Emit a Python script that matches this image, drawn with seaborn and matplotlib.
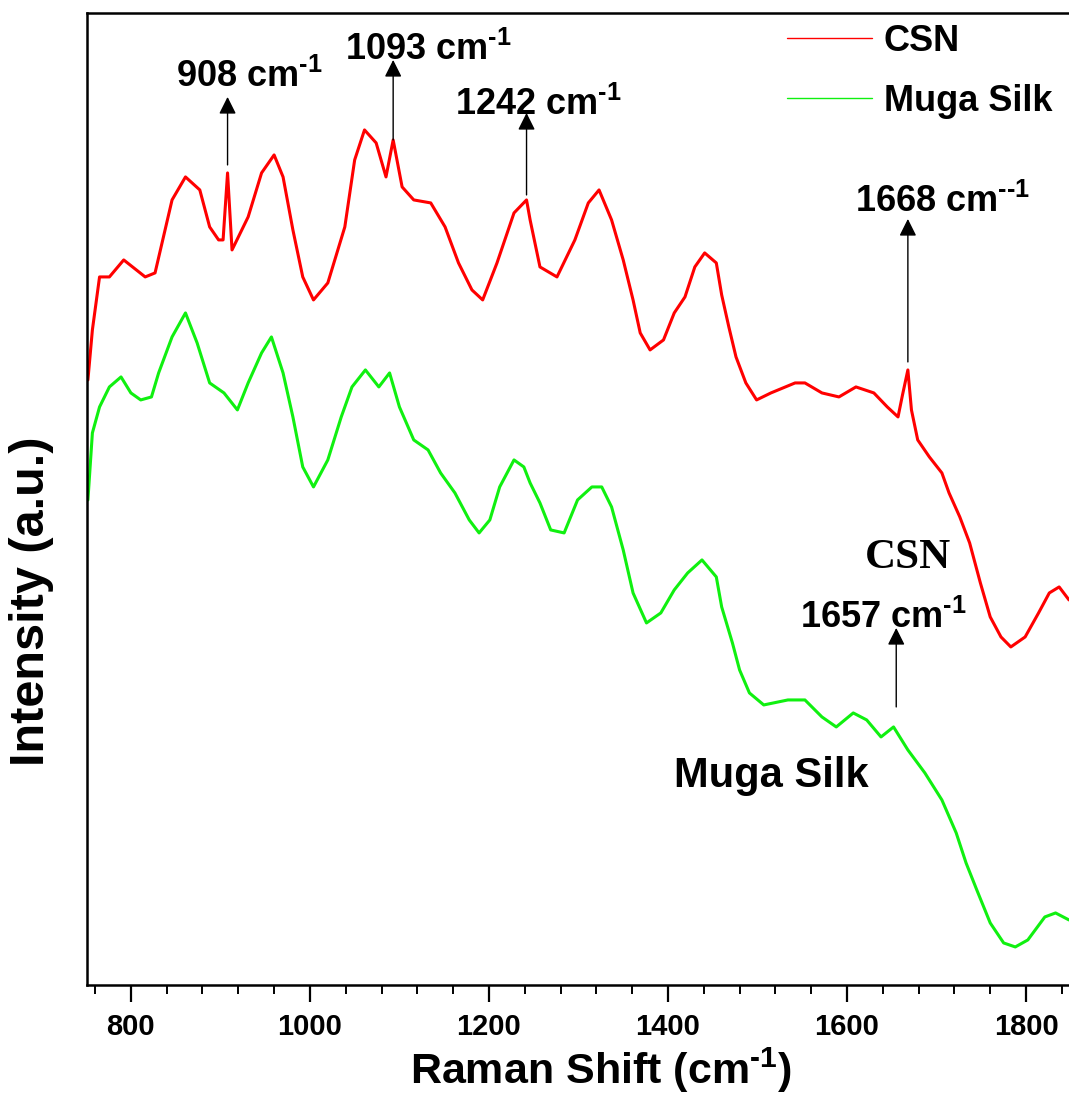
import numpy as np
import pandas as pd
import seaborn as sns
import matplotlib
matplotlib.use("Agg")
import matplotlib.pyplot as plt
from matplotlib.ticker import MultipleLocator

# values (intensity in arbitrary units)
csn_shift = [752, 757, 765, 776, 792, 816, 827, 846, 861, 877, 888, 898, 903, 908, 913,
             931, 946, 960, 970, 981, 992, 1004, 1020, 1039, 1050, 1061, 1074, 1085, 1093,
             1103, 1116, 1135, 1151, 1166, 1181, 1193, 1209, 1228, 1242, 1246, 1257, 1276,
             1296, 1311, 1323, 1337, 1350, 1361, 1369, 1380, 1395, 1407, 1419, 1430, 1441,
             1454, 1460, 1468, 1476, 1487, 1499, 1515, 1542, 1553, 1572, 1591, 1610, 1630,
             1645, 1657, 1662, 1668, 1672, 1679, 1692, 1706, 1714, 1726, 1737, 1749, 1760,
             1772, 1783, 1799, 1814, 1826, 1837, 1848]
csn_int = [605, 655, 708, 708, 725, 708, 712, 785, 808, 795, 758, 745, 745, 812, 735,
           768, 812, 830, 808, 755, 708, 685, 702, 758, 825, 855, 842, 808, 845,
           798, 785, 782, 758, 722, 695, 685, 722, 772, 785, 765, 718, 708,
           745, 782, 795, 765, 725, 685, 652, 635, 645, 672, 688, 718, 732,
           722, 690, 658, 628, 602, 585, 592, 602, 602, 592, 588, 598, 592,
           578, 568, 590, 615, 575, 545, 528, 512, 492, 468, 442, 402, 368,
           348, 338, 348, 372, 392, 398, 385]

muga_shift = [752, 757, 765, 776, 789, 800, 811, 823, 831, 846, 861, 874, 888, 904, 919,
              931, 946, 957, 970, 981, 992, 1004, 1020, 1035, 1047, 1062, 1077, 1089, 1100,
              1116, 1132, 1146, 1162, 1178, 1189, 1201, 1212, 1228, 1239, 1246, 1257, 1269,
              1284, 1299, 1315, 1326, 1337, 1350, 1361, 1376, 1392, 1407, 1422, 1438, 1454,
              1460, 1472, 1480, 1491, 1507, 1534, 1553, 1572, 1588, 1607, 1622, 1638, 1652,
              1668, 1687, 1706, 1722, 1733, 1745, 1760, 1775, 1788, 1802, 1821, 1833, 1848]
muga_int = [485, 552, 578, 598, 608, 592, 585, 588, 612, 648, 672, 642, 602, 592, 575,
            602, 632, 648, 612, 568, 518, 498, 525, 568, 598, 615, 598, 612, 578,
            545, 535, 512, 492, 465, 452, 465, 498, 525, 518, 502, 482, 455,
            452, 485, 498, 498, 478, 435, 392, 362, 372, 395, 412, 425, 408,
            378, 342, 315, 292, 280, 285, 285, 268, 258, 272, 265, 248, 258,
            235, 212, 185, 152, 122, 95, 62, 42, 38, 45, 68, 72, 65]

# peak markers: (label, arrow x, arrow base y, arrow tip y, text x, text baseline y)
peaks = [
    (r"908 cm$^{\text{-1}}$", 908, 820, 888, 850, 898),
    (r"1093 cm$^{\text{-1}}$", 1093, 845, 925, 1039, 925),
    (r"1242 cm$^{\text{-1}}$", 1242, 790, 872, 1162, 870),
    (r"1668 cm$^{\text{--1}}$", 1668, 623, 766, 1609, 773),
    (r"1657 cm$^{\text{-1}}$", 1655, 278, 357, 1547, 357),
]

sns.set_theme(style="white")
plt.rcParams["font.family"] = ["Liberation Sans", "DejaVu Sans"]
plt.rcParams["font.weight"] = "bold"
plt.rcParams["text.color"] = "black"
plt.rcParams["axes.labelcolor"] = "black"
plt.rcParams["xtick.color"] = "black"
plt.rcParams["mathtext.fontset"] = "custom"
plt.rcParams["mathtext.rm"] = "Liberation Sans:bold"
plt.rcParams["mathtext.it"] = "Liberation Sans:bold"
plt.rcParams["mathtext.bf"] = "Liberation Sans:bold"

fig = plt.figure(figsize=(10.69, 10.95), dpi=100)
ax = fig.add_axes([0.0814, 0.1005, 0.9186, 0.8877])

csn = pd.DataFrame({"shift": csn_shift, "intensity": csn_int})
muga = pd.DataFrame({"shift": muga_shift, "intensity": muga_int})
sns.lineplot(data=csn, x="shift", y="intensity", color="#ff0000", lw=2.2, label="CSN", ax=ax)
sns.lineplot(data=muga, x="shift", y="intensity", color="#10f010", lw=2.2, label="Muga Silk", ax=ax)

ax.set_xlim(751, 1848)
ax.set_ylim(0, 972)
ax.set_yticks([])
ax.xaxis.set_major_locator(MultipleLocator(200))
ax.xaxis.set_minor_locator(MultipleLocator(40))
ax.tick_params(axis="x", which="major", direction="out", length=12, width=1.6,
               labelsize=21, pad=8, bottom=True, color="black", labelcolor="black")
ax.tick_params(axis="x", which="minor", direction="out", length=6.5, width=1.4,
               bottom=True, color="black")
for lab in ax.get_xticklabels():
    lab.set_fontweight("bold")

for side in ["left", "bottom", "top"]:
    ax.spines[side].set_color("black")
    ax.spines[side].set_linewidth(1.8)
ax.spines["right"].set_visible(False)

ax.set_xlabel(r"Raman Shift (cm$^{\text{-1}}$)", fontsize=31, fontweight="bold",
              labelpad=0, va="baseline")
ax.xaxis.set_label_coords(0.523, -0.102)
ax.set_ylabel("Intensity (a.u.)", fontsize=35, fontweight="bold", va="center")
ax.yaxis.set_label_coords(-0.057, 0.395)

for text, xa, yb, yt, xt, ytxt in peaks:
    ax.annotate("", xy=(xa, yt), xytext=(xa, yb),
                arrowprops=dict(arrowstyle="-|>", color="black", lw=1.0,
                                mutation_scale=26, shrinkA=0, shrinkB=0))
    ax.text(xt, ytxt, text, fontsize=26, fontweight="bold", ha="left", va="baseline")

ax.text(1620, 417, "CSN", fontsize=31, fontweight="bold", family="Liberation Serif",
        ha="left", va="baseline")
ax.text(1407, 198, "Muga Silk", fontsize=30, fontweight="bold", ha="left", va="baseline")

leg = ax.legend(loc="upper left", bbox_to_anchor=(0.713, 0.989), frameon=False,
                fontsize=26, handlelength=2.35, handletextpad=0.32, labelspacing=0.7,
                borderaxespad=0, borderpad=0)
for line in leg.get_lines():
    line.set_linewidth(1.0)
for t in leg.get_texts():
    t.set_fontweight("bold")
    t.set_color("black")

fig.savefig("out.png", dpi=100)
